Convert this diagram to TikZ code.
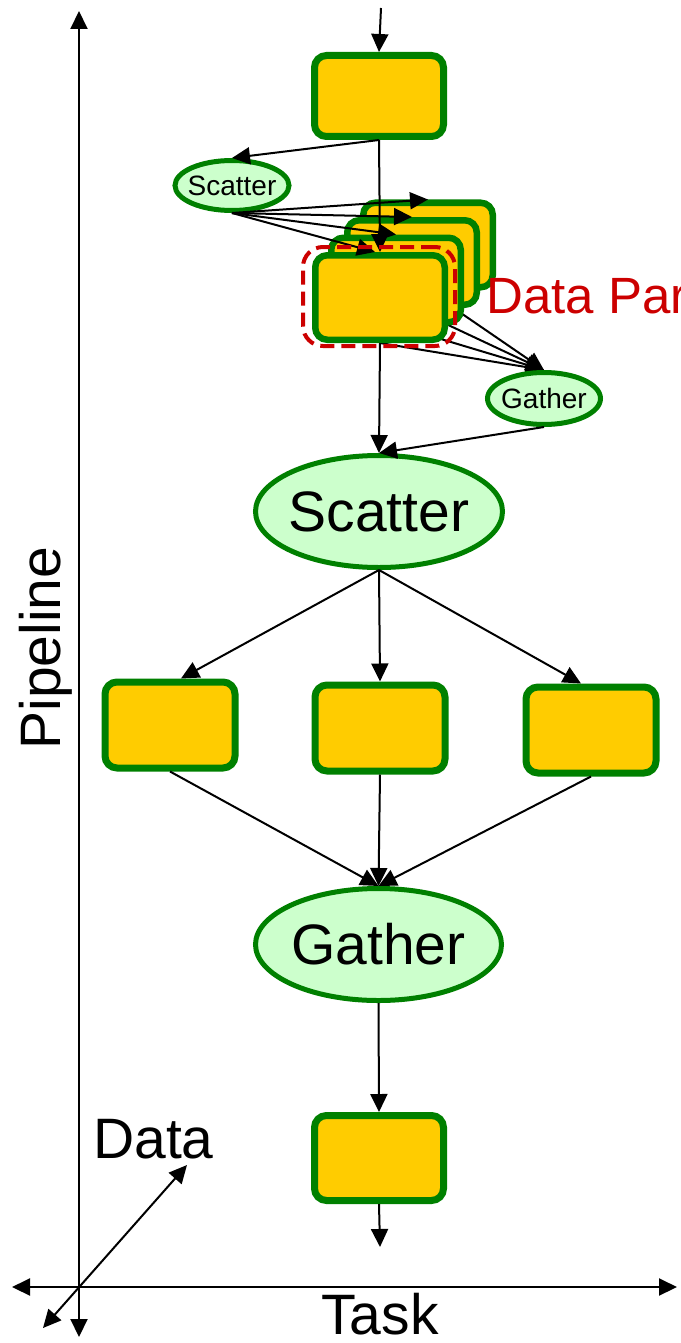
\documentclass[tikz,border=0pt]{standalone}
\usepackage{fontspec}
\setmainfont{Liberation Sans}
\usetikzlibrary{shapes.geometric,arrows.meta,backgrounds}
\definecolor{boxfill}{HTML}{FFCC00}
\definecolor{boxline}{HTML}{008000}
\definecolor{ellfill}{HTML}{CCFFCC}
\definecolor{redline}{HTML}{CC0000}
\begin{document}
\begin{tikzpicture}[x=1pt,y=-1pt,
  task/.style={draw=boxline, fill=boxfill, line width=7pt, rounded corners=12pt,
    minimum width=129pt, minimum height=85pt, inner sep=0pt},
  stackbox/.style={task, line width=6.5pt, minimum width=129.5pt, minimum height=84.5pt},
  ell/.style={ellipse, draw=boxline, fill=ellfill, line width=5pt, inner sep=0pt},
  conn/.style={line width=2pt, -{Triangle[length=18pt,width=17pt]}},
  axis/.style={line width=2pt, {Triangle[length=18pt,width=17pt]}-{Triangle[length=18pt,width=17pt]}},
  big/.style={font=\fontsize{57}{60}\selectfont, inner sep=0pt},
  small/.style={font=\fontsize{28}{30}\selectfont, inner sep=0pt},
  redlab/.style={font=\fontsize{51}{54}\selectfont, text=redline, inner sep=0pt},
  dpbox/.style={draw=redline, line width=4pt, dash pattern=on 14pt off 7pt,
    rounded corners=20pt, minimum width=152pt, minimum height=99pt, inner sep=0pt},
]
\useasboundingbox (0,0) rectangle (680,1343);

% axes
\coordinate (vT) at (79,11);
\coordinate (vB) at (79,1337);
\coordinate (hL) at (12,1287);
\coordinate (hR) at (677,1287);
\coordinate (dA) at (43,1328);
\coordinate (dB) at (187,1165);
\draw[axis] (vB) -- (vT);
\draw[axis] (hL) -- (hR);
\draw[axis] (dA) -- (dB);
\node[big, rotate=90, anchor=base] (pipe) at (60,648) {Pipeline};
\node[big, anchor=base west] (datal) at (93,1158) {Data};
\node[big, anchor=base] (taskl) at (380,1334) {Task};

% top task
\coordinate (in) at (381,8);
\node[task, minimum height=81pt] (B1) at (379,96) {};
\draw[conn] (in) -- (B1.north);

% small scatter / gather
\node[ell, minimum width=114pt, minimum height=50pt] (sS) at (232,185.5) {};
\node[small] (sSl) at (sS.center) {Scatter};
\node[ell, minimum width=113pt, minimum height=52pt] (sG) at (544,398.5) {};
\node[small] (sGl) at (sG.center) {Gather};

% stacked data-parallel tasks
\node[stackbox] (F3) at (428,245) {};
\node[stackbox] (F2) at (412,262.5) {};
\node[stackbox] (F1) at (396,280) {};
\node[stackbox] (F0) at (380,297.5) {};
\begin{scope}[on background layer]
  \draw[conn] (F3.south) -- (sG.north);
  \draw[conn] (F2.south) -- (sG.north);
  \draw[conn] (F1.south) -- (sG.north);
  \draw[conn] (F0.south) -- (sG.north);
\end{scope}
\draw[conn] (B1.south) -- (sS.north);
\draw[conn] (B1.south) -- (F0.north);
\draw[conn] (sS.south) -- (F3.north);
\draw[conn] (sS.south) -- (F2.north);
\draw[conn] (sS.south) -- (F1.north);
\draw[conn] (sS.south) -- ([xshift=-5pt]F0.north);
\node[dpbox] (DP) at (379,296.5) {};
\node[redlab, anchor=base west] (DPl) at (486,313) {Data Par};

% big scatter
\node[ell, minimum width=247pt, minimum height=112pt] (BS) at (379,511.5) {};
\node[big] (BSl) at (BS.center) {Scatter};
\draw[conn] (F0.south) -- (BS.north);
\draw[conn] (sG.south) -- (BS.north);

% three tasks
\node[task, minimum width=130pt, minimum height=86pt] (L) at (170,725) {};
\node[task, minimum width=130pt, minimum height=86pt] (M) at (380,728) {};
\node[task, minimum width=130pt, minimum height=86pt] (R) at (591,730) {};
\draw[conn] (BS.south) -- ([xshift=11pt]L.north);
\draw[conn] (BS.south) -- (M.north);
\draw[conn] (BS.south) -- ([xshift=-10pt]R.north);

% big gather
\node[ell, minimum width=246pt, minimum height=112pt] (BG) at (378.5,944.5) {};
\node[big] (BGl) at (BG.center) {Gather};
\draw[conn] (L.south) -- (BG.north);
\draw[conn] (M.south) -- (BG.north);
\draw[conn] (R.south) -- (BG.north);

% bottom task
\node[task] (Bt) at (379,1158) {};
\coordinate (out) at (380,1247);
\draw[conn] (BG.south) -- (Bt.north);
\draw[conn] (Bt.south) -- (out);
\end{tikzpicture}
\end{document}
